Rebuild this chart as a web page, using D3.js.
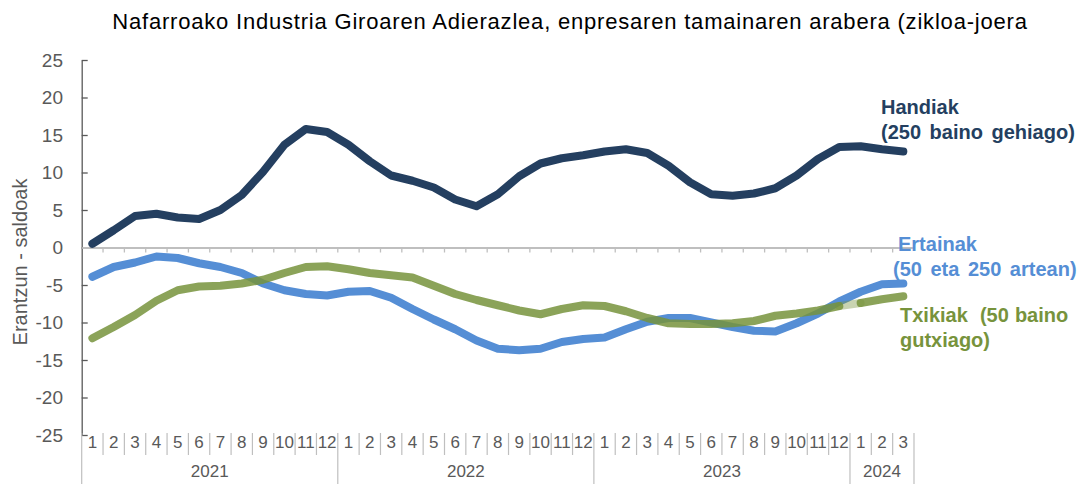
<!DOCTYPE html>
<html>
<head>
<meta charset="utf-8">
<script src="https://cdn.jsdelivr.net/npm/d3@7"></script>
<style>
body { margin: 0; background: #fff; }
text { font-family: "Liberation Sans", Arial, sans-serif; }
</style>
</head>
<body>
<svg id="chart" width="1086" height="484"></svg>
<script>
// data
var years = ["2021", "2022", "2023", "2024"]
var monthsPerYear = [12, 12, 12, 3]
var yTicks = [25, 20, 15, 10, 5, 0, -5, -10, -15, -20, -25]

var handiak = [0.5, 2.3, 4.2, 4.5, 4.0, 3.8, 5.0, 7.0, 10.1, 13.7, 15.8, 15.4,
  13.7, 11.5, 9.6, 8.9, 8.0, 6.4, 5.5, 7.1, 9.5, 11.2, 11.9, 12.3,
  12.8, 13.1, 12.6, 10.9, 8.7, 7.1, 6.9, 7.2, 7.9, 9.6, 11.8, 13.4,
  13.5, 13.1, 12.8]
var ertainak = [-3.9, -2.6, -2.0, -1.2, -1.4, -2.1, -2.6, -3.4, -4.8, -5.7, -6.2, -6.4,
  -5.9, -5.8, -6.7, -8.2, -9.6, -10.9, -12.4, -13.5, -13.7, -13.5, -12.6, -12.2,
  -12.0, -10.9, -9.9, -9.4, -9.4, -10.0, -10.6, -11.1, -11.2, -10.1, -8.8, -7.2,
  -5.9, -4.9, -4.8]
var txikiak = [-12.1, -10.6, -9.0, -7.1, -5.7, -5.2, -5.1, -4.8, -4.3, -3.4, -2.6, -2.5,
  -2.9, -3.4, -3.7, -4.0, -5.1, -6.2, -7.0, -7.7, -8.4, -8.9, -8.2, -7.7,
  -7.8, -8.5, -9.4, -10.1, -10.2, -10.2, -10.1, -9.8, -9.1, -8.8, -8.4, -7.8,
  -7.4, -6.9, -6.5]

var title = "Nafarroako Industria Giroaren Adierazlea, enpresaren tamainaren arabera (zikloa-joera"

// build the category list
var cats = []
years.forEach(function(y, yi){
  for (var m = 1; m <= monthsPerYear[yi]; m++) cats.push({year: y, month: m, key: y + "-" + m})
})

var svg = d3.select("#chart")
var pLeft = 81.7, pRight = 914, pTop = 60, pBottom = 435

var x = d3.scaleBand().domain(cats.map(function(d){ return d.key })).range([pLeft, pRight]).padding(0)
var y = d3.scaleLinear().domain([-25, 25]).range([pBottom, pTop])
var cx = function(i){ return x(cats[i].key) + x.bandwidth() / 2 }

var grey = "#595959", light = "#bfbfbf"

// title
svg.append("text").attr("x", 570).attr("y", 29).attr("text-anchor", "middle")
  .style("font-size", "22px").style("letter-spacing", "0.8px").attr("fill", "#000").text(title)

// y axis
var yAxis = d3.axisRight(y).tickValues(yTicks).tickSize(6).tickSizeOuter(0).tickFormat("")
var ya = svg.append("g").attr("transform", "translate(" + pLeft + ",0)").call(yAxis)
ya.select(".domain").attr("stroke", grey).attr("stroke-width", 1.3)
ya.selectAll(".tick line").attr("stroke", grey).attr("stroke-width", 1.3)

svg.append("g").selectAll("text").data(yTicks).enter().append("text")
  .attr("x", 63).attr("y", function(d){ return y(d) + 6.5 })
  .attr("text-anchor", "end").attr("fill", grey).style("font-size", "19px")
  .text(function(d){ return d })

svg.append("text").attr("transform", "translate(27,262) rotate(-90)")
  .attr("text-anchor", "middle").attr("fill", grey).style("font-size", "20px")
  .text("Erantzun - saldoak")

// zero line with ticks
var zeroAxis = d3.axisBottom(x).tickValues([]).tickSizeOuter(0)
var za = svg.append("g").attr("transform", "translate(0," + y(0) + ")").call(zeroAxis)
za.select(".domain").attr("stroke", light).attr("stroke-width", 1.8)
za.selectAll(".zt").data(cats.slice(1)).enter().append("line")
  .attr("x1", function(d){ return x(d.key) }).attr("x2", function(d){ return x(d.key) })
  .attr("y1", 0).attr("y2", 5).attr("stroke", light).attr("stroke-width", 1.3)

// bottom category axis: months, separators, years
var cat = svg.append("g")
cat.selectAll(".sep").data(cats).enter().append("line")
  .attr("x1", function(d){ return x(d.key) }).attr("x2", function(d){ return x(d.key) })
  .attr("y1", pBottom - 2).attr("y2", function(d){ return d.month == 1 ? 484 : 455 })
  .attr("stroke", light).attr("stroke-width", 1.2)
cat.append("line").attr("x1", pRight).attr("x2", pRight).attr("y1", pBottom - 2).attr("y2", 484)
  .attr("stroke", light).attr("stroke-width", 1.2)
cat.selectAll(".m").data(cats).enter().append("text")
  .attr("x", function(d){ return x(d.key) + x.bandwidth() / 2 }).attr("y", 448)
  .attr("text-anchor", "middle").attr("fill", grey).style("font-size", "17px")
  .text(function(d){ return d.month })
years.forEach(function(yr, yi){
  var ks = cats.filter(function(d){ return d.year == yr })
  var x0 = x(ks[0].key), x1 = x(ks[ks.length - 1].key) + x.bandwidth()
  cat.append("text").attr("x", (x0 + x1) / 2).attr("y", 477).attr("text-anchor", "middle")
    .attr("fill", grey).style("font-size", "17px").text(yr)
})

// lines
var line = d3.line().x(function(d){ return cx(d.i) }).y(function(d){ return y(d.v) })
var pts = function(arr){ return arr.map(function(v, i){ return {i: i, v: v} }) }

function drawLine(data, color, op){
  svg.append("path").datum(data).attr("d", line).attr("fill", "none")
    .attr("stroke", color).attr("stroke-width", 8).attr("stroke-linecap", "round")
    .attr("stroke-linejoin", "round").attr("opacity", op)
}

drawLine(pts(handiak), "#243f60", 1)
drawLine(pts(ertainak), "#558ed5", 1)
var tp = pts(txikiak)
drawLine(tp.slice(0, 36), "#77933c", 0.85)
drawLine(tp.slice(35, 37), "#77933c", 0.4)
drawLine(tp.slice(36), "#77933c", 0.85)

// series labels
function label(lines, xs, y0, color, ws){
  var t = svg.append("text").attr("fill", color).style("font-size", "20px")
    .style("font-weight", "bold").style("word-spacing", ws + "px").style("white-space", "pre")
  lines.forEach(function(s, k){
    t.append("tspan").attr("x", xs[k]).attr("y", y0 + k * 25).text(s)
  })
}
label(["Handiak", "(250 baino gehiago)"], [881, 881], 114, "#243f60", 3)
label(["Ertainak", "(50 eta 250 artean)"], [898, 893], 251, "#558ed5", 3)
label(["Txikiak  (50 baino", "gutxiago)"], [900, 900], 322, "#77933c", 0.5)
</script>
</body>
</html>
